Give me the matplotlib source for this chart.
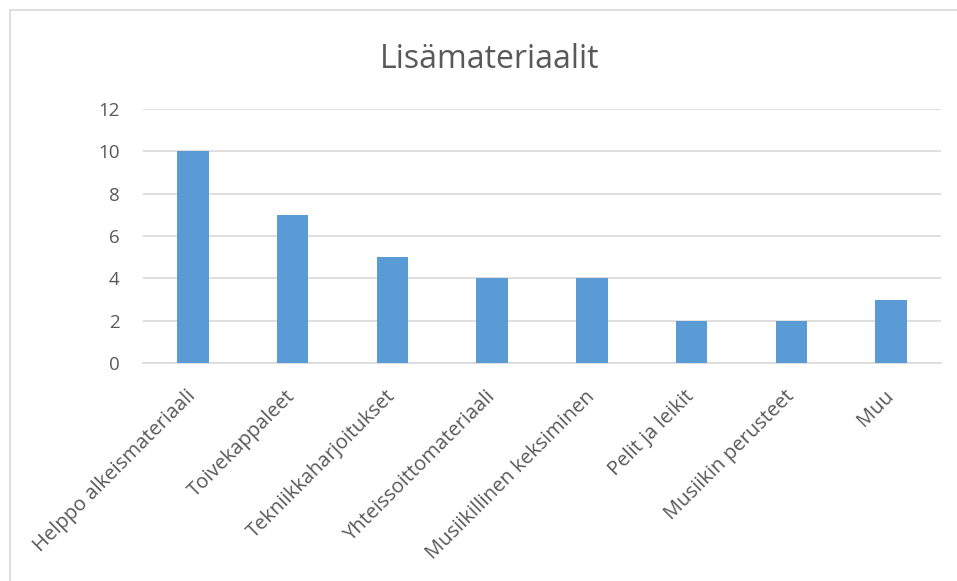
import matplotlib
matplotlib.use("Agg")
import matplotlib.pyplot as plt
from matplotlib.patches import Rectangle

categories = ["Helppo alkeismateriaali", "Toivekappaleet", "Tekniikkaharjoitukset",
              "Yhteissoittomateriaali", "Musiikillinen keksiminen", "Pelit ja leikit",
              "Musiikin perusteet", "Muu"]
values = [10, 7, 5, 4, 4, 2, 2, 3]
yticks = [0, 2, 4, 6, 8, 10, 12]
title = "Lisämateriaalit"

W, H = 957, 581
fig = plt.figure(figsize=(W / 100, H / 100), dpi=100)
fig.patch.set_facecolor("white")

# chart border
fig.add_artist(Rectangle((10 / W, -0.05), 1.1, 1 - 10 / H + 0.05, transform=fig.transFigure,
                         fill=False, edgecolor="#D9D9D9", linewidth=1.2))

left, right, top, bottom = 143, 941, 109, 363
ax = fig.add_axes([left / W, 1 - bottom / H, (right - left) / W, (bottom - top) / H])
x = list(range(len(categories)))
ax.bar(x, values, width=0.315, color="#5B9BD5", zorder=3)
ax.set_xlim(-0.5, len(categories) - 0.5)
ax.set_ylim(0, 12)
ax.set_yticks(yticks)
ax.set_yticklabels([str(t) for t in yticks], fontsize=13.5, color="#595959", family="Open Sans")
ax.yaxis.grid(True, color="#D9D9D9", linewidth=1.2, zorder=0)
for s in ["left", "right", "top"]:
    ax.spines[s].set_visible(False)
ax.spines["bottom"].set_color("#D9D9D9")
ax.spines["bottom"].set_linewidth(1.2)
ax.tick_params(axis="both", length=0)
ax.tick_params(axis="y", pad=17)
ax.set_xticks(x)
ax.set_xticklabels(categories, rotation=45, ha="right", va="center", rotation_mode="anchor",
                   fontsize=14.5, color="#595959", family="Open Sans")
ax.tick_params(axis="x", pad=22)

fig.text(490 / W, 1 - 68 / H, title, ha="center", va="baseline",
         fontsize=23, color="#595959", family="Open Sans")

fig.savefig("out.png", dpi=100, facecolor="white")
